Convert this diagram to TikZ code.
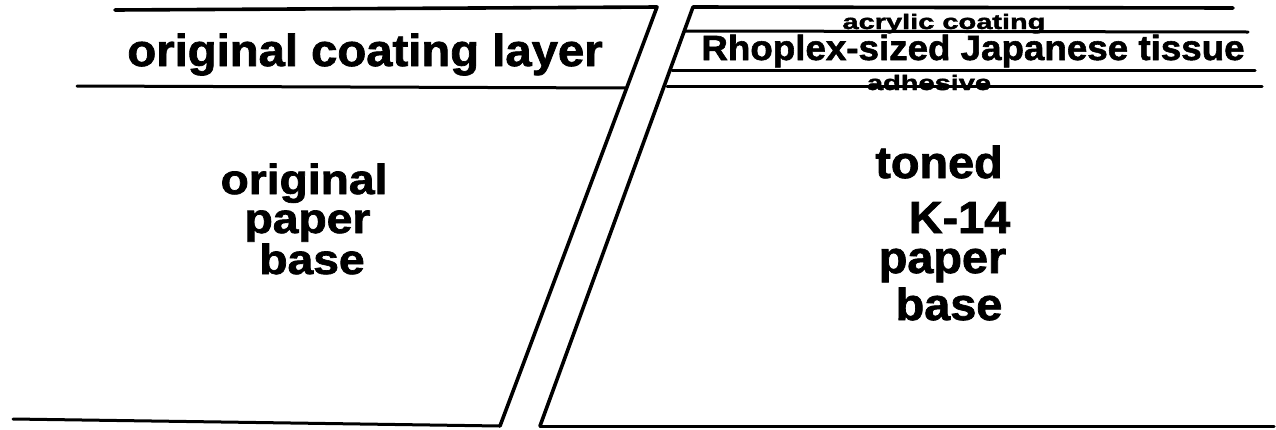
\documentclass[tikz,border=0pt]{standalone}
\usepackage{fontspec}
\setmainfont{Liberation Sans}[BoldFeatures={FakeBold=1.6}]
\begin{document}
\begin{tikzpicture}[x=1pt,y=-1pt,
  rule/.style={line width=3pt,line cap=round,line join=round},
  slant/.style={line width=3.6pt,line cap=round,line join=round},
  lbl/.style={inner sep=0pt,anchor=base}]
\useasboundingbox (0,0) rectangle (1276,429);
% corner coordinates
\coordinate (LTa) at (115,10);
\coordinate (LTb) at (657,7);
\coordinate (LB) at (500,426);
\coordinate (LBa) at (13,419);
\coordinate (LCa) at (77,86);
\coordinate (LCb) at (626,88);
\coordinate (RT) at (693,7);
\coordinate (RTb) at (1233,8);
\coordinate (RB) at (540,426);
\coordinate (RBb) at (1274,426);
\coordinate (R2a) at (685,31);
\coordinate (R2b) at (1248,32);
\coordinate (R3a) at (672,70);
\coordinate (R3b) at (1255,70);
\coordinate (R4a) at (667,86);
\coordinate (R4b) at (1262,86);
% left piece
\draw[slant] (LTa) -- (LTb) -- (LB);
\draw[rule] (LBa) -- (LB);
\draw[rule] (LCa) -- (LCb);
% right piece
\draw[slant] (RB) -- (RT) -- (RTb);
\draw[rule] (RB) -- (RBb);
\draw[rule] (R2a) -- (R2b);
\draw[rule] (R3a) -- (R3b);
% texts
\node[lbl] (coat) at (365,66) {\bfseries\fontsize{45}{45}\selectfont\scalebox{1.05}[1]{original coating layer}};
\node[lbl] (o1) at (304,194) {\bfseries\fontsize{42}{42}\selectfont\scalebox{1.1}[1]{original}};
\node[lbl] (o2) at (307.5,233) {\bfseries\fontsize{42}{42}\selectfont\scalebox{1.1}[1]{paper}};
\node[lbl] (o3) at (312,274) {\bfseries\fontsize{42}{42}\selectfont\scalebox{1.1}[1]{base}};
\node[lbl] (acr) at (944,29) {\bfseries\fontsize{21}{21}\selectfont\scalebox{1.38}[1]{acrylic coating}};
\node[lbl] (rho) at (973,60) {\bfseries\fontsize{35}{35}\selectfont\scalebox{1.05}[1]{Rhoplex-sized Japanese tissue}};
\node[lbl] (adh) at (929,90) {\bfseries\fontsize{21}{21}\selectfont\scalebox{1.38}[1]{adhesive}};
\draw[rule] (R4a) -- (R4b);
\node[lbl] (t1) at (939,178) {\bfseries\fontsize{45}{45}\selectfont\scalebox{1.04}[1]{toned}};
\node[lbl] (t2) at (959.5,233) {\bfseries\fontsize{45}{45}\selectfont\scalebox{1.04}[1]{K-14}};
\node[lbl] (t3) at (942.5,273) {\bfseries\fontsize{45}{45}\selectfont\scalebox{1.04}[1]{paper}};
\node[lbl] (t4) at (949,320) {\bfseries\fontsize{45}{45}\selectfont\scalebox{1.04}[1]{base}};
\end{tikzpicture}
\end{document}
